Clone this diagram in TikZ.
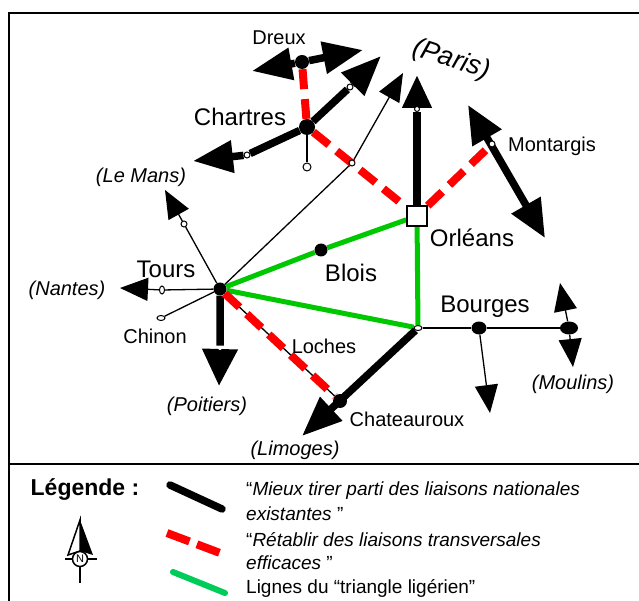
\documentclass[tikz,border=0pt]{standalone}
\usepackage{fontspec}
\setmainfont{Liberation Sans}
\usetikzlibrary{arrows.meta,shapes.geometric,backgrounds}

\definecolor{mapgreen}{RGB}{0,200,0}
\definecolor{leggreen}{RGB}{0,204,90}

\begin{document}
\begin{tikzpicture}[x=1pt,y=-1pt,
  nat/.style={line width=7.5pt},
  trans/.style={red,line width=8pt,dash pattern=on 20pt off 10pt},
  tri/.style={mapgreen,line width=5pt},
  fine/.style={line width=1.3pt},
  bigtip/.style={-{Triangle[length=40pt,width=31pt]}},
  smalltip/.style={-{Triangle[length=28pt,width=23pt]}},
  city/.style={fill=black,circle,inner sep=0pt,minimum size=#1},
  city/.default=13pt,
  port/.style={draw,fill=white,circle,inner sep=0pt,minimum size=6pt,line width=1pt},
  lg/.style={font=\fontsize{24}{28}\selectfont},
  sm/.style={font=\fontsize{20}{24}\selectfont},
  it/.style={font=\fontsize{20}{24}\selectfont\itshape},
  leg/.style={font=\fontsize{19}{22}\selectfont,anchor=west,inner sep=0pt}]

\useasboundingbox (0,0) rectangle (639,601);

% cadre
\draw [line width=1.5pt] (9,601) -- (9,13) -- (639,13);
\draw [line width=1.5pt] (9,464) -- (639,464);

% villes
\node [city] at (220,289) (tours) {};
\node [city] at (321,250) (blois) {};
\node [draw,fill=white,line width=1.5pt,minimum size=20pt,inner sep=0pt] at (417,216) (orleans) {};
\node [city,ellipse,minimum width=15pt,minimum height=13pt] at (479,328) (bourges) {};
\node [city,ellipse,minimum width=18pt,minimum height=13pt] at (569,328) (moulins) {};
\node [city=16pt] at (307,127) (chartres) {};
\node [city=14pt] at (302,62) (dreux) {};
\node [city=14pt] at (340,401) (chateauroux) {};

% petits cercles
\node [port] at (492,144) (montargis) {};
\node [port] at (247,155) (chl) {};
\node [port] at (350,87) (chr) {};
\node [port,minimum size=8pt] at (307,167) (chd) {};
\node [port,minimum size=5pt] at (417,109) (par) {};
\node [port] at (352,163) (thn) {};
\node [port] at (184,224) (lem) {};
\node [port,ellipse,minimum width=5pt,minimum height=8pt] at (162,290) (nan) {};
\node [port,ellipse,minimum width=8pt,minimum height=5pt] at (161,318) (chi) {};
\node [port,draw=none,minimum size=4pt] at (220,348) (poi) {};
\node [port,ellipse,minimum width=8pt,minimum height=5pt] at (418,328) (bjct) {};

% pointes
\coordinate (chlT) at (193,161);
\coordinate (chrT) at (381,56);
\coordinate (drW) at (252,71);
\coordinate (drE) at (363,50);
\coordinate (parT) at (417,75);
\coordinate (thnT) at (403,73);
\coordinate (monN) at (468,105);
\coordinate (monS) at (545,238);
\coordinate (poiT) at (219,386);
\coordinate (limT) at (302,436);
\coordinate (lemT) at (165,190);
\coordinate (nanT) at (120,288);
\coordinate (bouT) at (490,413);
\coordinate (mouN) at (560,283);
\coordinate (mouS) at (573,367);

\begin{scope}[on background layer]
\draw [tri] (tours) -- (blois) -- (orleans) -- (bjct) -- (tours);

\draw [fine] (tours) -- (chi);
\draw [fine] (chartres) -- (chd);
\draw [fine,smalltip] (tours) -- (lem) -- (lemT);
\draw [fine,smalltip] (tours) -- (nan) -- (nanT);
\draw [fine,smalltip] (tours) -- (thn) -- (thnT);
\draw [fine] (bjct) -- (bourges) -- (moulins);
\draw [fine,smalltip] (bourges) -- (bouT);
\draw [fine,smalltip] (moulins) -- (mouN);
\draw [fine,smalltip] (moulins) -- (mouS);
\draw [fine] (tours) -- (chateauroux);

\draw [nat,bigtip] (chartres) -- (chl) -- (chlT);
\draw [nat,bigtip] (chartres) -- (chr) -- (chrT);
\draw [nat,bigtip] (dreux) -- (drW);
\draw [nat,bigtip] (dreux) -- (drE);
\draw [nat,-{Triangle[length=33pt,width=28pt]}] (orleans) -- (par) -- (parT);
\draw [nat,{Triangle[length=38pt,width=32pt]}-{Triangle[length=38pt,width=32pt]}] (monN) -- (monS);
\draw [nat,-{Triangle[length=37pt,width=34pt]}] (tours) -- (poi) -- (poiT);
\draw [nat,bigtip] (bjct) -- (limT);

\draw [trans] (dreux) -- (chartres) -- (orleans) -- (montargis);
\draw [trans] (tours) -- (chateauroux);
\end{scope}

% noms
\node [sm] at (279,38) {Dreux};
\node [lg] at (240,117) {Chartres};
\node [font=\fontsize{27}{31}\selectfont\itshape,rotate=-18] at (451,60) {(Paris)};
\node [sm] at (552,146) {Montargis};
\node [it] at (141,177) {(Le Mans)};
\node [lg] at (166,269) {Tours};
\node [it] at (67,290) {(Nantes)};
\node [sm] at (155,336) {Chinon};
\node [it] at (207,406) {(Poitiers)};
\node [lg] at (351,273) {Blois};
\node [lg] at (472,238) {Orléans};
\node [lg] at (485,307) {Bourges};
\node [sm] at (324,346) {Loches};
\node [sm] at (407,419) {Chateauroux};
\node [it] at (573,384) {(Moulins)};
\node [it] at (295,450) {(Limoges)};

% legende
\node [font=\fontsize{23}{26}\selectfont\bfseries] at (85,489) {Légende :};
\draw [nat,line cap=round] (170,485) -- (222,509);
\draw [red,line width=8pt,dash pattern=on 24pt off 8pt] (167,533) -- (220,553);
\draw [leggreen,line width=6pt,line cap=round] (173,572) -- (225,593);
\node [leg] at (246,491) {“\textit{Mieux tirer parti des liaisons nationales}};
\node [leg] at (246,514) {\textit{existantes} ”};
\node [leg] at (246,540) {“\textit{Rétablir des liaisons transversales}};
\node [leg] at (246,563) {\textit{efficaces} ”};
\node [leg] at (246,588) {Lignes du “triangle ligérien”};

% boussole
\draw [line width=1.5pt] (80,545) -- (80,583);
\draw [line width=1.5pt] (65,559) -- (97,559);
\filldraw [fill=white,line width=1.5pt] (80,520) -- (68,555) -- (80,551) -- cycle;
\fill (80,520) -- (93,555) -- (80,551) -- cycle;
\node [draw,fill=white,circle,line width=1.5pt,minimum size=15pt,inner sep=0pt,font=\fontsize{11}{12}\selectfont] at (80,559) (nord) {N};

\end{tikzpicture}
\end{document}
